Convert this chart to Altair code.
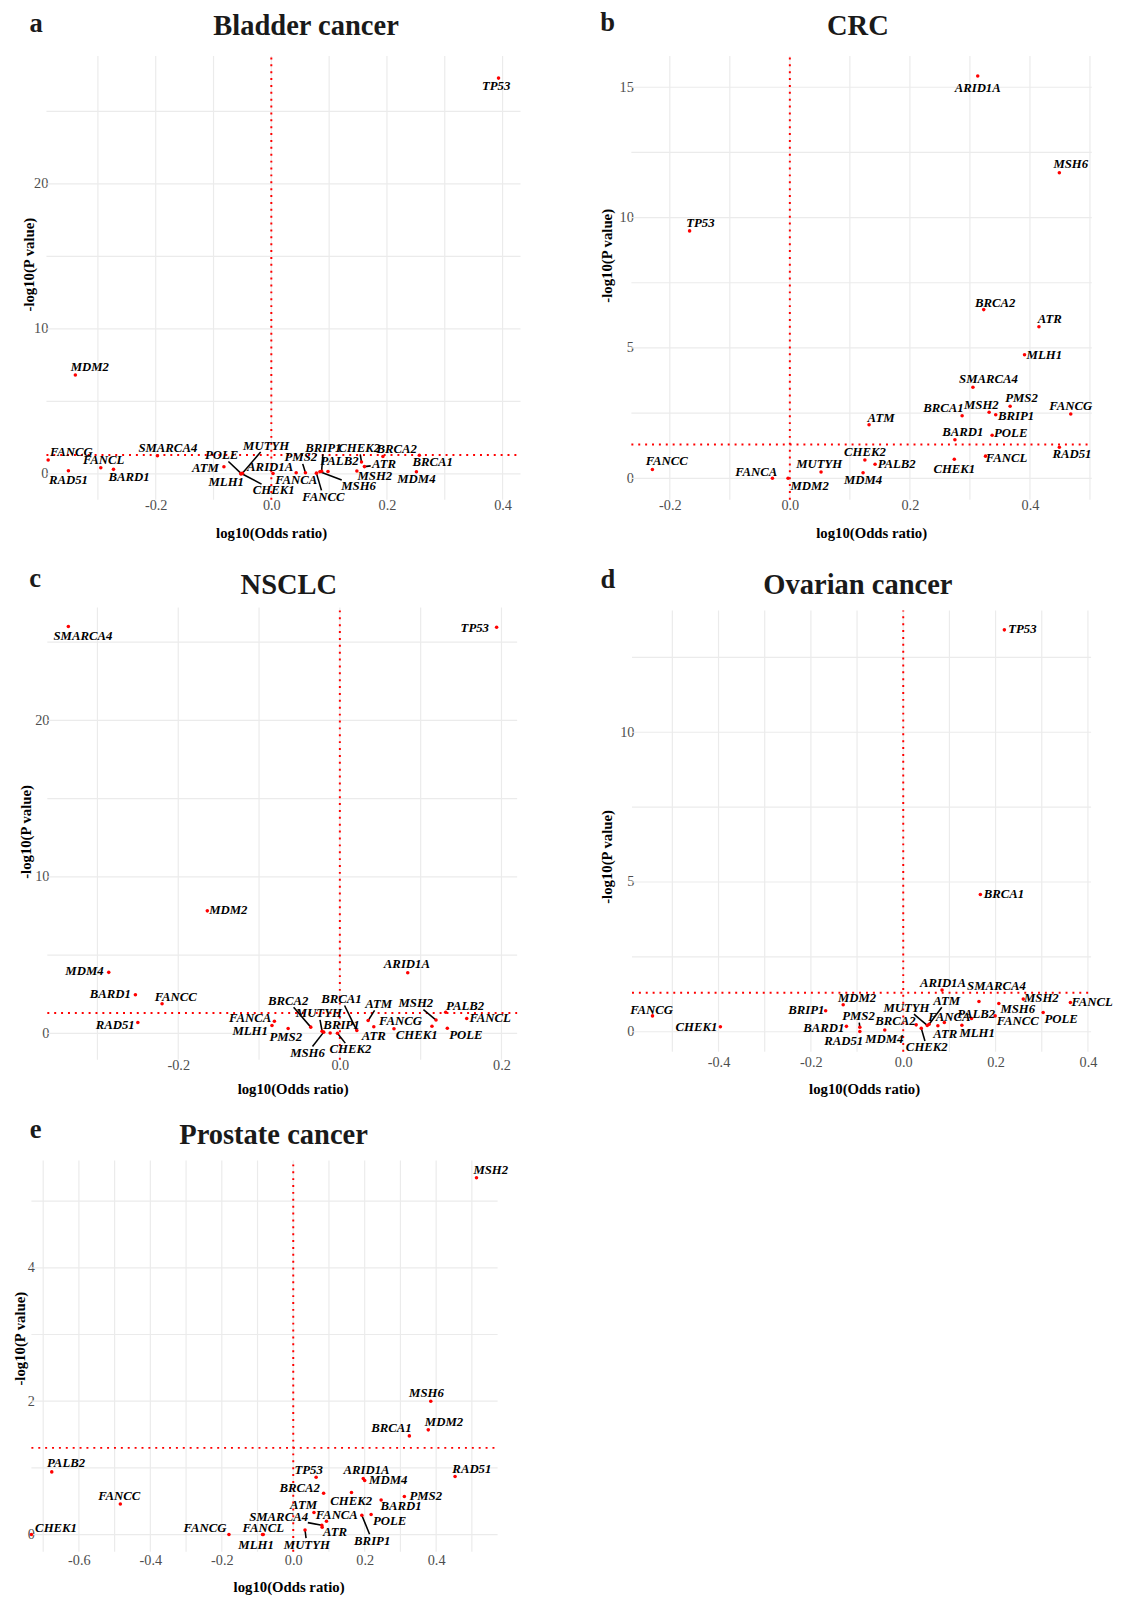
import altair as alt
import pandas as pd

FONT = "Liberation Serif"
GENE_SIZE = 13

# ---------------- data ----------------
# Panel a: Bladder cancer
A_GENE = ["TP53", "MDM2", "FANCG", "RAD51", "FANCL", "BARD1", "SMARCA4", "ATM", "POLE", "MUTYH",
          "MLH1", "CHEK1", "ARID1A", "FANCA", "PMS2", "FANCC", "MSH6", "BRIP1", "PALB2", "MSH2",
          "CHEK2", "ATR", "BRCA2", "BRCA1", "MDM4"]
A_LOR = [0.393, -0.339, -0.386, -0.351, -0.295, -0.273, -0.197, -0.082, -0.052, -0.050,
         -0.053, -0.051, 0.003, 0.043, 0.059, 0.078, 0.084, 0.087, 0.098, 0.148,
         0.156, 0.161, 0.193, 0.256, 0.251]
A_NLP = [27.3, 6.82, 0.96, 0.21, 0.42, 0.31, 1.25, 0.49, 0.02, 0.04,
         0.00, 0.01, 0.02, 0.07, 0.07, 0.05, 0.14, 0.18, 0.16, 0.19,
         0.82, 0.50, 1.20, 1.29, 0.14]

# Panel b: CRC
B_GENE = ["ARID1A", "MSH6", "TP53", "BRCA2", "ATR", "MLH1", "SMARCA4", "PMS2", "MSH2", "BRIP1",
          "BRCA1", "FANCG", "ATM", "POLE", "BARD1", "RAD51", "FANCL", "CHEK1", "CHEK2", "PALB2",
          "FANCC", "MUTYH", "MDM4", "FANCA", "MDM2"]
B_LOR = [0.313, 0.449, -0.167, 0.323, 0.415, 0.391, 0.305, 0.367, 0.332, 0.343,
         0.287, 0.468, 0.132, 0.337, 0.275, 0.449, 0.326, 0.274, 0.125, 0.142,
         -0.229, 0.052, 0.122, -0.029, -0.003]
B_NLP = [15.43, 11.72, 9.49, 6.47, 5.81, 4.74, 3.49, 2.76, 2.53, 2.44,
         2.40, 2.47, 2.05, 1.65, 1.48, 1.19, 0.85, 0.73, 0.70, 0.54,
         0.34, 0.24, 0.21, 0.00, 0.00]

# Panel c: NSCLC
C_GENE = ["SMARCA4", "TP53", "MDM2", "MDM4", "ARID1A", "BARD1", "FANCC", "RAD51", "FANCA", "MLH1",
          "PMS2", "BRCA2", "MUTYH", "MSH6", "BRIP1", "CHEK2", "BRCA1", "ATM", "ATR", "FANCG",
          "CHEK1", "MSH2", "PALB2", "FANCL", "POLE"]
C_LOR = [-0.336, 0.194, -0.164, -0.286, 0.084, -0.253, -0.220, -0.250, -0.081, -0.084,
         -0.064, -0.036, -0.022, -0.020, -0.012, -0.003, 0.021, 0.035, 0.042, 0.067,
         0.114, 0.119, 0.131, 0.157, 0.133]
C_NLP = [26.0, 25.95, 7.83, 3.90, 3.88, 2.47, 1.90, 0.70, 0.77, 0.50,
         0.31, 0.40, 0.14, 0.08, 0.03, 0.01, 0.18, 0.82, 0.42, 0.29,
         0.46, 0.85, 1.35, 0.95, 0.33]

# Panel d: Ovarian cancer
D_GENE = ["TP53", "BRCA1", "ARID1A", "SMARCA4", "MSH2", "FANCL", "MSH6", "POLE", "FANCC", "MLH1",
          "PALB2", "FANCA", "ATR", "ATM", "MUTYH", "CHEK2", "BRCA2", "MDM4", "RAD51", "PMS2",
          "BARD1", "BRIP1", "MDM2", "CHEK1", "FANCG"]
D_LOR = [0.219, 0.167, 0.084, 0.164, 0.260, 0.362, 0.207, 0.303, 0.199, 0.127,
         0.148, 0.089, 0.075, 0.056, 0.052, 0.039, 0.028, -0.040, -0.094, -0.094,
         -0.123, -0.168, -0.130, -0.396, -0.543]
D_NLP = [13.42, 4.58, 1.39, 1.01, 1.09, 0.98, 0.94, 0.64, 0.53, 0.22,
         0.44, 0.31, 0.20, 0.25, 0.21, 0.12, 0.23, 0.06, 0.01, 0.15,
         0.18, 0.70, 0.90, 0.17, 0.53]

# Panel e: Prostate cancer
E_GENE = ["MSH2", "MSH6", "MDM2", "BRCA1", "PALB2", "RAD51", "TP53", "ARID1A", "MDM4", "BRCA2",
          "CHEK2", "PMS2", "BARD1", "FANCC", "ATM", "BRIP1", "POLE", "FANCA", "SMARCA4", "ATR",
          "MUTYH", "FANCG", "FANCL", "MLH1", "CHEK1"]
E_LOR = [0.513, 0.385, 0.378, 0.325, -0.676, 0.453, 0.064, 0.196, 0.200, 0.085,
         0.163, 0.311, 0.246, -0.484, 0.058, 0.192, 0.218, 0.093, 0.080, 0.081,
         0.033, -0.180, -0.084, -0.086, -0.733]
E_NLP = [5.35, 2.00, 1.57, 1.48, 0.94, 0.87, 0.86, 0.84, 0.81, 0.62,
         0.63, 0.57, 0.52, 0.46, 0.33, 0.29, 0.30, 0.20, 0.14, 0.11,
         0.07, 0.00, 0.00, 0.00, 0.00]

# ---------------- label placement (repelled label centres, data units) ----------------
A_LAB_X = [0.389, -0.314, -0.346, -0.351, -0.290, -0.246, -0.179, -0.114, -0.086, -0.009,
           -0.078, 0.004, -0.002, 0.043, 0.051, 0.090, 0.151, 0.090, 0.118, 0.179,
           0.152, 0.195, 0.217, 0.279, 0.251]
A_LAB_Y = [26.73, 7.36, 1.53, -0.40, 0.94, -0.24, 1.79, 0.38, 1.29, 1.95,
           -0.59, -1.15, 0.49, -0.40, 1.13, -1.58, -0.87, 1.79, 0.85, -0.16,
           1.79, 0.66, 1.72, 0.78, -0.35]
A_SEG = ["POLE", "MUTYH", "CHEK1", "PMS2", "BRIP1", "FANCC", "MSH6", "CHEK2", "ATR"]

B_LAB_X = [0.313, 0.468, -0.149, 0.342, 0.433, 0.424, 0.331, 0.386, 0.319, 0.377,
           0.256, 0.468, 0.152, 0.368, 0.288, 0.470, 0.361, 0.274, 0.125, 0.178,
           -0.205, 0.049, 0.122, -0.056, 0.033]
B_LAB_Y = [14.97, 12.05, 9.80, 6.73, 6.10, 4.74, 3.81, 3.06, 2.80, 2.40,
           2.70, 2.76, 2.31, 1.72, 1.78, 0.92, 0.76, 0.37, 1.00, 0.56,
           0.66, 0.54, -0.07, 0.24, -0.29]
B_SEG = []

C_LAB_X = [-0.318, 0.167, -0.138, -0.316, 0.083, -0.284, -0.203, -0.278, -0.111, -0.111,
           -0.067, -0.064, -0.026, -0.040, 0.002, 0.013, 0.002, 0.048, 0.042, 0.075,
           0.095, 0.094, 0.155, 0.186, 0.156]
C_LAB_Y = [25.40, 25.89, 7.88, 3.96, 4.44, 2.54, 2.30, 0.50, 0.98, 0.13,
           -0.26, 2.08, 1.27, -1.25, 0.50, -1.03, 2.19, 1.88, -0.20, 0.79,
           -0.11, 1.93, 1.77, 0.98, -0.09]
C_SEG = ["BRCA2", "MUTYH", "MSH6", "BRCA1", "CHEK2", "ATM", "MSH2"]

D_LAB_X = [0.258, 0.218, 0.086, 0.202, 0.299, 0.409, 0.248, 0.342, 0.248, 0.160,
           0.158, 0.100, 0.091, 0.094, 0.007, 0.051, -0.017, -0.041, -0.129, -0.097,
           -0.172, -0.210, -0.100, -0.448, -0.545]
D_LAB_Y = [13.46, 4.60, 1.63, 1.51, 1.11, 1.00, 0.77, 0.42, 0.34, -0.06,
           0.60, 0.49, -0.09, 1.03, 0.80, -0.52, 0.37, -0.25, -0.32, 0.52,
           0.11, 0.72, 1.11, 0.15, 0.74]
D_SEG = ["ATM", "MUTYH", "CHEK2", "PMS2"]

E_LAB_X = [0.553, 0.373, 0.422, 0.275, -0.636, 0.500, 0.043, 0.205, 0.266, 0.018,
           0.162, 0.371, 0.302, -0.487, 0.029, 0.221, 0.270, 0.122, -0.041, 0.117,
           0.038, -0.247, -0.084, -0.104, -0.664]
E_LAB_Y = [5.46, 2.12, 1.68, 1.60, 1.07, 0.98, 0.97, 0.97, 0.81, 0.70,
           0.50, 0.58, 0.42, 0.57, 0.44, -0.09, 0.20, 0.30, 0.26, 0.04,
           -0.15, 0.10, 0.10, -0.16, 0.10]
E_SEG = ["SMARCA4", "BRIP1", "MUTYH"]

THRESHOLD = 1.3  # -log10(0.05)

# ---------------- layout of each panel ----------------
LAYOUT = {
    "a": dict(w=497, h=462, xdom=[-0.389, 0.431], xrange=[14.1, 496.3], ydom=[-1.79, 28.83], yrange=[452, 0.5],
              xgrid=[-0.3, -0.2, -0.1, 0.0, 0.1, 0.2, 0.3, 0.4], ygrid=[0, 5, 10, 15, 20, 25],
              xticks=[-0.2, 0.0, 0.2, 0.4], yticks=[0, 10, 20],
              xlabpad=-11, ylabpad=-15.5, xt=(242.6, 28), yt=(-3.8, 212.3),
              letter=(3.7, -23.7), name=(278.2, -20.3)),
    "b": dict(w=468, h=462, xdom=[-0.264, 0.503], xrange=[-0.9, 467.4], ydom=[-0.825, 16.2], yrange=[452, 0.5],
              xgrid=[-0.2, -0.1, 0.0, 0.1, 0.2, 0.3, 0.4, 0.5], ygrid=[0, 2.5, 5, 7.5, 10, 12.5, 15],
              xticks=[-0.2, 0.0, 0.2, 0.4], yticks=[0, 5, 10, 15],
              xlabpad=-11, ylabpad=-1.1, xt=(243, 28), yt=(-26.2, 203.3),
              letter=(-25.0, -25.1), name=(229.5, -21.3)),
    "c": dict(w=493, h=463, xdom=[-0.362, 0.2194], xrange=[15.0, 492.9], ydom=[-1.68, 27.22], yrange=[460.5, 0.5],
              xgrid=[-0.3, -0.2, -0.1, 0.0, 0.1, 0.2], ygrid=[0, 5, 10, 15, 20, 25],
              xticks=[-0.2, 0.0, 0.2], yticks=[0, 10, 20],
              xlabpad=-3.5, ylabpad=-16.7, xt=(264.5, 32), yt=(-6.8, 228.4),
              letter=(2.7, -20.2), name=(260.7, -13.3)),
    "d": dict(w=467, h=454, xdom=[-0.5874, 0.4068], xrange=[-0.27, 466.7], ydom=[-0.67, 14.07], yrange=[452.5, 3.5],
              xgrid=[-0.5, -0.4, -0.3, -0.2, -0.1, 0.0, 0.1, 0.2, 0.3, 0.4], ygrid=[0, 2.5, 5, 7.5, 10, 12.5],
              xticks=[-0.4, -0.2, 0.0, 0.2, 0.4], yticks=[0, 5, 10],
              xlabpad=2.5, ylabpad=-1.7, xt=(235.8, 41), yt=(-26.2, 253.8),
              letter=(-24.9, -19.5), name=(229.5, -13.2)),
    "e": dict(w=474, h=400, xdom=[-0.733, 0.572], xrange=[-1.2, 473.0], ydom=[-0.257, 5.61], yrange=[399, 1],
              xgrid=[-0.7, -0.6, -0.5, -0.4, -0.3, -0.2, -0.1, 0.0, 0.1, 0.2, 0.3, 0.4, 0.5],
              ygrid=[0, 1, 2, 3, 4, 5],
              xticks=[-0.6, -0.4, -0.2, 0.0, 0.2, 0.4], yticks=[0, 2, 4],
              xlabpad=1, ylabpad=-1.8, xt=(260.4, 39.7), yt=(-13, 181.8),
              letter=(3, -22), name=(245.1, -15.3)),
}


def segments(genes, lor, nlp, lab_x, lab_y, seg_genes, L):
    kx = (L["xrange"][1] - L["xrange"][0]) / (L["xdom"][1] - L["xdom"][0])
    ky = (L["yrange"][0] - L["yrange"][1]) / (L["ydom"][1] - L["ydom"][0])
    rows = []
    for g in seg_genes:
        i = genes.index(g)
        dxp = (lor[i] - lab_x[i]) * kx
        dyp = (nlp[i] - lab_y[i]) * ky
        hw = 0.31 * GENE_SIZE * len(g) + 1.5
        hh = 0.5 * GENE_SIZE
        t = min(hw / abs(dxp) if dxp else 1e9, hh / abs(dyp) if dyp else 1e9)
        if t < 1:
            rows.append(dict(px=lor[i], py=nlp[i],
                             ex=lab_x[i] + t * (lor[i] - lab_x[i]),
                             ey=lab_y[i] + t * (nlp[i] - lab_y[i])))
    return pd.DataFrame(rows, columns=["px", "py", "ex", "ey"])


def panel(letter, name, genes, lor, nlp, lab_x, lab_y, seg_genes):
    L = LAYOUT[letter]
    xsc = alt.Scale(domain=L["xdom"], range=L["xrange"], nice=False, zero=False)
    ysc = alt.Scale(domain=L["ydom"], range=L["yrange"], nice=False, zero=False)
    xax = alt.Axis(values=L["xticks"], format=".1f",
                   labelExpr="replace(datum.label, '\u2212', '-')",
                   grid=False, ticks=False, domain=False,
                   labelFont=FONT, labelFontSize=14.5, labelColor="#4d4d4d",
                   labelPadding=L["xlabpad"], labelFlush=False, labelOverlap=False,
                   title="log10(Odds ratio)", titleFont=FONT, titleFontSize=15,
                   titleFontWeight="bold", titleColor="black",
                   titleX=L["xt"][0], titleY=L["xt"][1], titleAlign="center",
                   titleBaseline="alphabetic")
    yax = alt.Axis(values=L["yticks"], format="d",
                   grid=False, ticks=False, domain=False,
                   labelFont=FONT, labelFontSize=14.5, labelColor="#4d4d4d",
                   labelPadding=L["ylabpad"], labelFlush=False, labelOverlap=False,
                   title="-log10(P value)", titleFont=FONT, titleFontSize=15,
                   titleFontWeight="bold", titleColor="black", titleAngle=270,
                   titleX=L["yt"][0], titleY=L["yt"][1], titleAlign="center",
                   titleBaseline="middle")

    def X(f):
        return alt.X(f, type="quantitative", scale=xsc, axis=xax)

    def Y(f):
        return alt.Y(f, type="quantitative", scale=ysc, axis=yax)

    x0, x1 = L["xdom"]
    y0, y1 = L["ydom"]
    gv = pd.DataFrame({"g": L["xgrid"], "a": y0, "b": y1})
    gh = pd.DataFrame({"g": L["ygrid"], "a": x0, "b": x1})
    grid_v = alt.Chart(gv).mark_rule(color="#ebebeb", strokeWidth=1.2).encode(
        x=X("g"), y=Y("a"), y2="b:Q")
    grid_h = alt.Chart(gh).mark_rule(color="#ebebeb", strokeWidth=1.2).encode(
        y=Y("g"), x=X("a"), x2="b:Q")
    th = pd.DataFrame({"v": [THRESHOLD], "a": [x0], "b": [x1]})
    tv = pd.DataFrame({"v": [0.0], "a": [y0], "b": [y1]})
    thr_h = alt.Chart(th).mark_rule(color="#ff0000", strokeDash=[2, 5], strokeWidth=2).encode(
        y=Y("v"), x=X("a"), x2="b:Q")
    thr_v = alt.Chart(tv).mark_rule(color="#ff0000", strokeDash=[2, 5], strokeWidth=2).encode(
        x=X("v"), y=Y("a"), y2="b:Q")

    df = pd.DataFrame({"gene": genes, "lor": lor, "nlp": nlp, "lx": lab_x, "ly": lab_y})
    layers = [grid_v, grid_h, thr_h, thr_v]
    seg = segments(genes, lor, nlp, lab_x, lab_y, seg_genes, L)
    if len(seg):
        layers.append(alt.Chart(seg).mark_rule(color="black", strokeWidth=1.6).encode(
            x=X("px"), y=Y("py"), x2="ex:Q", y2="ey:Q"))
    layers.append(alt.Chart(df).mark_circle(color="#ff0000", size=13, opacity=1).encode(
        x=X("lor"), y=Y("nlp")))
    layers.append(alt.Chart(df).mark_text(font=FONT, fontSize=GENE_SIZE, fontStyle="italic",
                                          fontWeight="bold", color="black", align="center",
                                          baseline="middle").encode(
        x=X("lx"), y=Y("ly"), text="gene:N"))
    layers.append(alt.Chart(pd.DataFrame({"t": [letter]})).mark_text(
        font=FONT, fontSize=27, fontWeight="bold", color="#1a1a1a", align="center",
        baseline="alphabetic").encode(
        x=alt.value(L["letter"][0]), y=alt.value(L["letter"][1]), text="t:N"))
    layers.append(alt.Chart(pd.DataFrame({"t": [name]})).mark_text(
        font=FONT, fontSize=29, fontWeight="bold", color="#1a1a1a", align="center",
        baseline="alphabetic").encode(
        x=alt.value(L["name"][0]), y=alt.value(L["name"][1]), text="t:N"))
    return alt.layer(*layers).properties(width=L["w"], height=L["h"])


pa = panel("a", "Bladder cancer", A_GENE, A_LOR, A_NLP, A_LAB_X, A_LAB_Y, A_SEG)
pb = panel("b", "CRC", B_GENE, B_LOR, B_NLP, B_LAB_X, B_LAB_Y, B_SEG)
pc = panel("c", "NSCLC", C_GENE, C_LOR, C_NLP, C_LAB_X, C_LAB_Y, C_SEG)
pd_ = panel("d", "Ovarian cancer", D_GENE, D_LOR, D_NLP, D_LAB_X, D_LAB_Y, D_SEG)
pe = panel("e", "Prostate cancer", E_GENE, E_LOR, E_NLP, E_LAB_X, E_LAB_Y, E_SEG)

chart = alt.concat(
    pa, pb, pc, pd_, pe,
    columns=2,
    spacing={"row": 99, "column": 113},
    bounds="flush",
    align="each",
).properties(
    padding={"left": 5, "top": -13.5, "right": 0, "bottom": 0},
    background="white",
).configure_view(stroke=None)

chart.save("out.html", embed_options={"renderer": "svg", "actions": False})
